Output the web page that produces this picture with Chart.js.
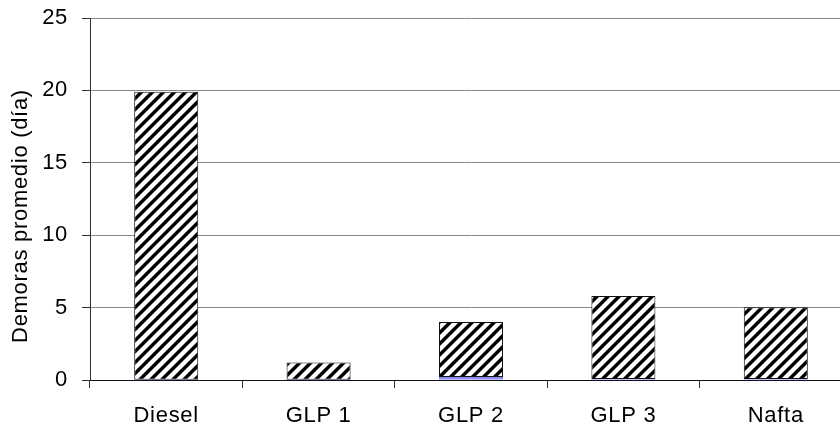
<!DOCTYPE html>
<html>
<head>
<meta charset="utf-8">
<script src="https://cdn.jsdelivr.net/npm/chart.js@4"></script>
<style>
  html, body { margin: 0; padding: 0; background: #fff; overflow: hidden; width: 840px; height: 430px; }
  #wrap { position: absolute; left: 0; top: 0; width: 855px; height: 430px; }
</style>
</head>
<body>
<div id="wrap"><canvas id="c"></canvas></div>
<script>
const categories = ['Diesel', 'GLP 1', 'GLP 2', 'GLP 3', 'Nafta'];
const baseValues = [0.02, 0.02, 0.2, 0.07, 0.07];
const hatchValues = [19.88, 1.18, 3.8, 5.73, 4.95];
const yTickValues = [0, 5, 10, 15, 20, 25];
const axisTitle = 'Demoras promedio (día)';

function makeHatch() {
  const s = 11;
  const t = document.createElement('canvas');
  t.width = s; t.height = s;
  const g = t.getContext('2d');
  const img = g.createImageData(s, s);
  for (let y = 0; y < s; y++) {
    for (let x = 0; x < s; x++) {
      const d = (x + y) % s;
      let v = 255;
      if (d < 4) v = 0;
      else if (d === 4 || d === s - 1) v = 140;
      const i = (y * s + x) * 4;
      img.data[i] = v; img.data[i + 1] = v; img.data[i + 2] = v; img.data[i + 3] = 255;
    }
  }
  g.putImageData(img, 0, 0);
  return document.getElementById('c').getContext('2d').createPattern(t, 'repeat');
}

const font = { family: '"Liberation Sans", Arial, sans-serif', size: 22 };

const spacingPlugin = {
  id: 'spacing',
  beforeDraw(chart) { chart.ctx.letterSpacing = '0.7px'; }
};

new Chart(document.getElementById('c'), {
  type: 'bar',
  plugins: [spacingPlugin],
  data: {
    labels: categories,
    datasets: [
      {
        data: baseValues,
        backgroundColor: '#8c8cff',
        borderWidth: 0,
        barPercentage: 0.42,
        categoryPercentage: 1
      },
      {
        data: hatchValues,
        backgroundColor: makeHatch(),
        borderColor: '#111',
        borderWidth: 1,
        borderSkipped: false,
        barPercentage: 0.42,
        categoryPercentage: 1
      }
    ]
  },
  options: {
    responsive: true,
    maintainAspectRatio: false,
    animation: false,
    layout: { padding: { top: 18, right: 3, left: 0, bottom: 0 } },
    plugins: { legend: { display: false }, tooltip: { enabled: false } },
    scales: {
      x: {
        stacked: true,
        offset: true,
        grid: { display: true, drawOnChartArea: false, offset: true, tickLength: 8, color: '#333', lineWidth: 1 },
        border: { display: true, color: '#111', width: 1 },
        ticks: { font: font, color: '#000', padding: 15, maxRotation: 0 },
        afterFit: (s) => { s.height = 50; s.paddingLeft = 0; s.paddingRight = 0; }
      },
      y: {
        stacked: true,
        min: 0,
        max: 25,
        afterBuildTicks: (s) => { s.ticks = yTickValues.map(v => ({ value: v })); },
        grid: { color: '#888', lineWidth: 1, tickLength: 8, tickColor: '#333' },
        border: { display: true, color: '#333', width: 1 },
        ticks: { font: font, color: '#000', padding: 14 },
        title: { display: true, text: axisTitle + '     ', font: font, color: '#000', padding: { top: 8, bottom: 0 } },
        afterFit: (s) => { s.width = 90; s.paddingTop = 0; s.paddingBottom = 0; }
      }
    }
  }
});
</script>
</body>
</html>
